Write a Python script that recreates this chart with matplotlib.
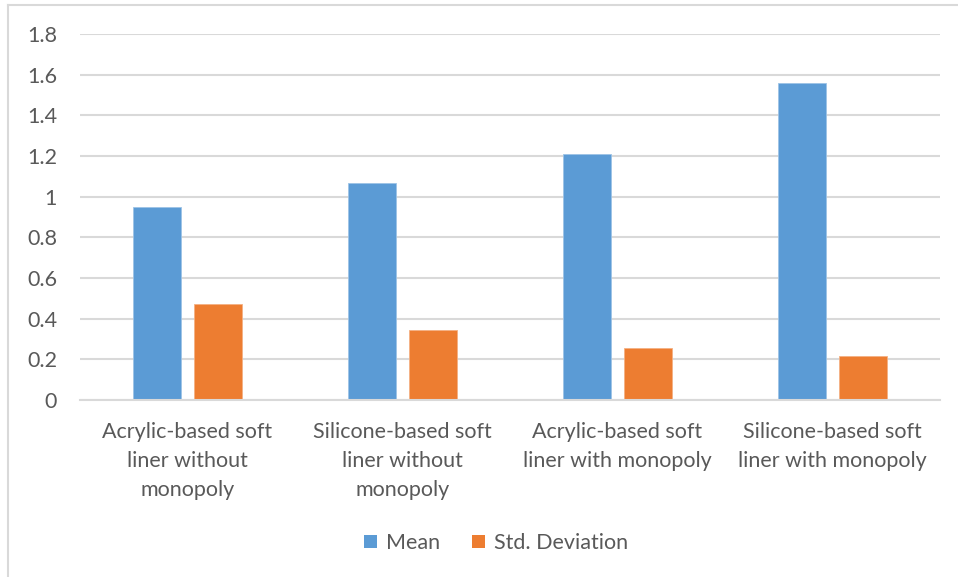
import matplotlib.pyplot as plt
import numpy as np
from matplotlib.lines import Line2D
from matplotlib.patches import Patch

categories = [
    "Acrylic-based soft\nliner without\nmonopoly",
    "Silicone-based soft\nliner without\nmonopoly",
    "Acrylic-based soft\nliner with monopoly",
    "Silicone-based soft\nliner with monopoly",
]
mean_values = [0.947, 1.069, 1.208, 1.561]
std_values = [0.471, 0.342, 0.254, 0.217]
series_names = ["Mean", "Std. Deviation"]
y_ticks = [0, 0.2, 0.4, 0.6, 0.8, 1, 1.2, 1.4, 1.6, 1.8]
y_tick_labels = ["0", "0.2", "0.4", "0.6", "0.8", "1", "1.2", "1.4", "1.6", "1.8"]

BLUE = "#5b9bd5"
ORANGE = "#ed7d31"
TEXT = "#595959"
GRID = "#d9d9d9"
FS = 15.5

plt.rcParams["font.family"] = ["Lato", "DejaVu Sans"]

W, H = 958, 577
fig = plt.figure(figsize=(W / 100, H / 100), dpi=100)
fig.patch.set_facecolor("white")

ax = fig.add_axes([80 / W, (H - 400) / H, (940 - 80) / W, (400 - 34) / H])

x = np.arange(len(categories))
width = 0.223
offset = 0.142
ax.bar(x - offset, mean_values, width, color=BLUE, edgecolor="#9dc3e6", linewidth=0.6, zorder=3)
ax.bar(x + offset, std_values, width, color=ORANGE, edgecolor="#f4b183", linewidth=0.6, zorder=3)

ax.set_xlim(-0.5, len(categories) - 0.5)
ax.set_ylim(0, 1.8)
ax.set_yticks(y_ticks)
ax.set_yticklabels(y_tick_labels)
ax.set_xticks(x)
ax.set_xticklabels(categories, linespacing=1.56)

ax.grid(axis="y", color=GRID, linewidth=1.5, zorder=0)
for s in ["top", "right", "left"]:
    ax.spines[s].set_visible(False)
ax.spines["bottom"].set_color(GRID)
ax.spines["bottom"].set_linewidth(1.5)
ax.spines["bottom"].set_zorder(4)

ax.tick_params(axis="y", length=0, pad=16.5, labelsize=FS, labelcolor=TEXT)
ax.tick_params(axis="x", length=0, pad=16, labelsize=FS, labelcolor=TEXT)

handles = [Patch(facecolor=BLUE, edgecolor="none"), Patch(facecolor=ORANGE, edgecolor="none")]
leg = fig.legend(handles, series_names, loc="center", bbox_to_anchor=(496 / W, 1 - 543 / H),
                 ncol=2, frameon=False, fontsize=FS, handlelength=0.6, handleheight=0.6,
                 handletextpad=0.4, columnspacing=1.5)
for t in leg.get_texts():
    t.set_color(TEXT)

# chart area border (top and left edges)
fig.add_artist(Line2D([8 / W, 8 / W], [0, 1 - 5 / H], transform=fig.transFigure, color=GRID, linewidth=1.5))
fig.add_artist(Line2D([8 / W, 1], [1 - 5 / H, 1 - 5 / H], transform=fig.transFigure, color=GRID, linewidth=1.5))

fig.savefig("out.png", dpi=100, facecolor="white")
